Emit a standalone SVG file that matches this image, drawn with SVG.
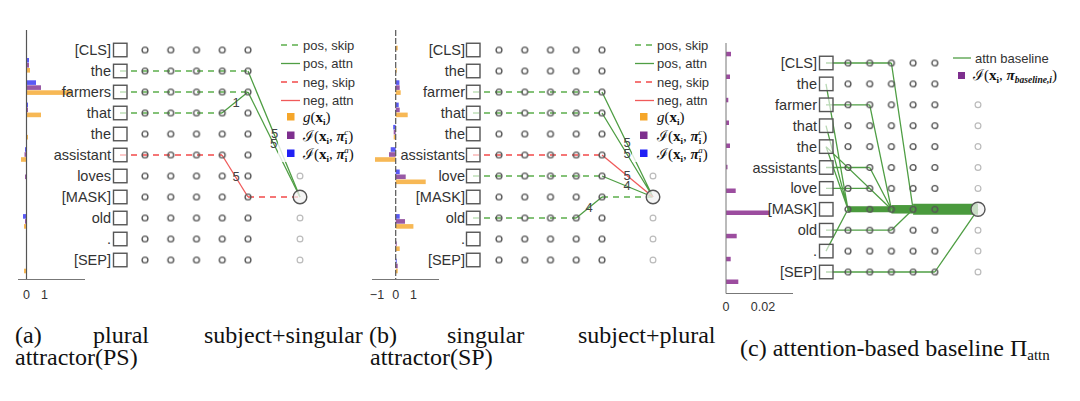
<svg xmlns="http://www.w3.org/2000/svg" xmlns:xlink="http://www.w3.org/1999/xlink" width="1080" height="401" viewBox="0 0 1080 401">
<style>
.lbl{font-family:"Liberation Sans",Arial,sans-serif;font-size:14.5px;fill:#333;text-anchor:end}
.box{fill:#fff;fill-opacity:.6;stroke:#555;stroke-width:1.4}
.c{fill:none;stroke:#555;stroke-width:1.4}
.cf{fill:none;stroke:#bbb;stroke-width:1.2}
.big{fill:#f2f2f2;fill-opacity:.75;stroke:#555;stroke-width:1.4}
.ps{fill:none;stroke:#5cae4c;stroke-width:1.4;stroke-dasharray:6 5}
.pa{fill:none;stroke:#4f9e44;stroke-width:1.3}
.ns{fill:none;stroke:#f24a4a;stroke-width:1.3;stroke-dasharray:6 5}
.na{fill:none;stroke:#f05a5a;stroke-width:1.3}
.bl{fill:#3d3df2;fill-opacity:.85}
.pu{fill:#7e2f8e;fill-opacity:.8}
.or{fill:#f5a62a;fill-opacity:.8}
.pc{fill:#9c4d9f}
.num{font-family:"Liberation Sans",Arial,sans-serif;font-size:13px;fill:#444;text-anchor:middle}
.tick{font-family:"Liberation Sans",Arial,sans-serif;font-size:12.5px;fill:#333;text-anchor:middle}
.leg{font-family:"Liberation Sans",Arial,sans-serif;font-size:13px;fill:#333}
.m{font-family:"Liberation Serif","DejaVu Serif",serif;font-size:15px;fill:#111}
.cap{font-family:"Liberation Serif","Times New Roman",serif;font-size:24px;fill:#111}
.ax{stroke:#555;stroke-width:1.2;fill:none}
.hx{stroke:#777;stroke-width:1;fill:none}
</style>
<defs>
<pattern id="gridA" patternUnits="userSpaceOnUse" x="132.125" y="39.5" width="25.75" height="21"><circle cx="12.875" cy="10.5" r="2.9" class="c"/></pattern>
<pattern id="gridB" patternUnits="userSpaceOnUse" x="486.125" y="39.5" width="25.75" height="21"><circle cx="12.875" cy="10.5" r="2.9" class="c"/></pattern>
<pattern id="gridC" patternUnits="userSpaceOnUse" x="837.15" y="52.55" width="21.7" height="20.9"><circle cx="10.85" cy="10.45" r="2.9" class="c"/></pattern>
</defs>
<rect width="1080" height="401" fill="#fff"/>

<!-- ================= Panel A ================= -->
<g id="panel-a">
<g id="a-bars">
<rect class="bl" x="26" y="58" width="3" height="4.6"/><rect class="pu" x="26" y="63" width="3" height="4.6"/><rect class="or" x="26" y="68" width="4" height="4.6"/>
<rect class="bl" x="26" y="80.3" width="10" height="4.6"/><rect class="pu" x="26" y="85.3" width="15" height="4.6"/><rect class="or" x="26" y="90.3" width="45" height="4.6"/>
<rect class="bl" x="26" y="102.6" width="2" height="4.6"/><rect class="pu" x="26" y="107.6" width="2" height="4.6"/><rect class="or" x="26" y="112.6" width="15" height="4.6"/>
<rect class="or" x="26" y="134.9" width="2" height="4.6"/>
<rect class="bl" x="25" y="147.2" width="1" height="4.6"/><rect class="pu" x="24.5" y="152.2" width="1.5" height="4.6"/><rect class="or" x="21" y="157.2" width="5" height="4.6"/>
<rect class="pu" x="25" y="174.5" width="1" height="4.6"/>
<rect class="bl" x="23" y="214.1" width="3" height="4.6"/><rect class="pu" x="25" y="219.1" width="1" height="4.6"/><rect class="or" x="24" y="224.1" width="2" height="4.6"/>
<rect class="or" x="26" y="246.4" width="1" height="4.6"/>
<rect class="or" x="24" y="268.7" width="2" height="4.6"/>
</g>
<g id="a-axes">
<path class="ax" d="M26.5,30 V280"/>
<path class="hx" d="M18,279.5 H85"/>
<text class="tick" x="26.5" y="299">0</text>
<text class="tick" x="44.5" y="299">1</text>
</g>
<g id="a-connectors">
<path class="ps" d="M120,71 H248 M120,92 H248 M120,113 H222"/>
<path class="ns" d="M120,155 H222 M248,197 H300"/>
<path class="pa" d="M222,113 L248,92 M248,71 L300,197"/>
<path class="pa" d="M248,92 L300,197" stroke-width="2.6"/>
<path class="na" d="M222,155 L248,197"/>
</g>
<rect x="132.125" y="39.5" width="128.75" height="231" fill="url(#gridA)"/>
<g id="a-out">
<circle class="cf" cx="300" cy="176" r="2.9"/><circle class="cf" cx="300" cy="218" r="2.9"/><circle class="cf" cx="300" cy="239" r="2.9"/><circle class="cf" cx="300" cy="260" r="2.9"/>
<circle class="big" cx="300" cy="197" r="6.8"/>
</g>
<g id="a-tok-cls"><text class="lbl" x="111" y="55">[CLS]</text><rect class="box" x="113.5" y="43.25" width="13.5" height="13.5"/></g>
<g id="a-tok-the1"><text class="lbl" x="111" y="76">the</text><rect class="box" x="113.5" y="64.25" width="13.5" height="13.5"/></g>
<g id="a-tok-farmers"><text class="lbl" x="111" y="97">farmers</text><rect class="box" x="113.5" y="85.25" width="13.5" height="13.5"/></g>
<g id="a-tok-that"><text class="lbl" x="111" y="118">that</text><rect class="box" x="113.5" y="106.25" width="13.5" height="13.5"/></g>
<g id="a-tok-the2"><text class="lbl" x="111" y="139">the</text><rect class="box" x="113.5" y="127.25" width="13.5" height="13.5"/></g>
<g id="a-tok-assistant"><text class="lbl" x="111" y="160">assistant</text><rect class="box" x="113.5" y="148.25" width="13.5" height="13.5"/></g>
<g id="a-tok-loves"><text class="lbl" x="111" y="181">loves</text><rect class="box" x="113.5" y="169.25" width="13.5" height="13.5"/></g>
<g id="a-tok-mask"><text class="lbl" x="111" y="202">[MASK]</text><rect class="box" x="113.5" y="190.25" width="13.5" height="13.5"/></g>
<g id="a-tok-old"><text class="lbl" x="111" y="223">old</text><rect class="box" x="113.5" y="211.25" width="13.5" height="13.5"/></g>
<g id="a-tok-dot"><text class="lbl" x="111" y="244">.</text><rect class="box" x="113.5" y="232.25" width="13.5" height="13.5"/></g>
<g id="a-tok-sep"><text class="lbl" x="111" y="265">[SEP]</text><rect class="box" x="113.5" y="253.25" width="13.5" height="13.5"/></g>
<g id="a-legend">
<rect x="278" y="36" width="88" height="126" fill="#fff" fill-opacity=".8"/>
<path class="ps" d="M281,45 H300" stroke-dasharray="6 3"/><text class="leg" x="303" y="49.5">pos, skip</text>
<path class="pa" d="M281,63.5 H300" stroke-width="1.6"/><text class="leg" x="303" y="68">pos, attn</text>
<path class="ns" d="M281,82 H300" stroke-dasharray="6 3"/><text class="leg" x="303" y="86.5">neg, skip</text>
<path class="na" d="M281,100.5 H300" stroke-width="1.6"/><text class="leg" x="303" y="105">neg, attn</text>
<rect x="287" y="113" width="7.5" height="7.5" fill="#f5a62a"/>
<text class="m" x="303" y="122"><tspan font-style="italic">g</tspan>(<tspan font-weight="bold">x</tspan><tspan font-weight="bold" font-size="9" dy="3">i</tspan><tspan dy="-3">)</tspan></text>
<rect x="287" y="131.5" width="7.5" height="7.5" fill="#7e2f8e"/>
<text class="m" x="303" y="140.5">ℐ(<tspan font-weight="bold">x</tspan><tspan font-weight="bold" font-size="9" dy="3">i</tspan><tspan dy="-3">, </tspan><tspan font-weight="bold" font-style="italic">π</tspan><tspan font-weight="bold" font-size="9" dy="3">i</tspan><tspan font-style="italic" font-size="9" dx="-3" dy="-9">c</tspan><tspan dy="6">)</tspan></text>
<rect x="287" y="149.5" width="7.5" height="7.5" fill="#2020f5"/>
<text class="m" x="303" y="158.5">ℐ(<tspan font-weight="bold">x</tspan><tspan font-weight="bold" font-size="9" dy="3">i</tspan><tspan dy="-3">, </tspan><tspan font-weight="bold" font-style="italic">π</tspan><tspan font-weight="bold" font-size="9" dy="3">i</tspan><tspan font-style="italic" font-size="9" dx="-3" dy="-9">a</tspan><tspan dy="6">)</tspan></text>
</g>
<g id="a-weights">
<text class="num" x="236" y="107">1</text>
<text class="num" x="274.5" y="138">5</text>
<text class="num" x="273.5" y="148">5</text>
<text class="num" x="236" y="181">5</text>
</g>
</g>

<!-- ================= Panel B ================= -->
<g id="panel-b">
<g id="b-bars">
<rect class="or" x="395.7" y="45.7" width="2" height="4.6"/>
<rect class="or" x="395.7" y="68" width="1" height="4.6"/>
<rect class="bl" x="395.7" y="80.3" width="3.7" height="4.6"/><rect class="pu" x="395.7" y="85.3" width="4" height="4.6"/><rect class="or" x="395.7" y="90.3" width="5" height="4.6"/>
<rect class="bl" x="395.7" y="102.6" width="3" height="4.6"/><rect class="pu" x="395.7" y="107.6" width="4" height="4.6"/><rect class="or" x="395.7" y="112.6" width="12" height="4.6"/>
<rect class="bl" x="393.2" y="124.9" width="2.5" height="4.6"/><rect class="pu" x="393.7" y="129.9" width="2" height="4.6"/><rect class="or" x="393.7" y="134.9" width="2" height="4.6"/>
<rect class="bl" x="390.7" y="147.2" width="5" height="4.6"/><rect class="pu" x="389" y="152.2" width="6.7" height="4.6"/><rect class="or" x="375" y="157.2" width="20.7" height="4.6"/>
<rect class="bl" x="395.7" y="169.5" width="4" height="4.6"/><rect class="pu" x="395.7" y="174.5" width="10" height="4.6"/><rect class="or" x="395.7" y="179.5" width="30" height="4.6"/>
<rect class="bl" x="395.7" y="214.1" width="4" height="4.6"/><rect class="pu" x="395.7" y="219.1" width="9.3" height="4.6"/><rect class="or" x="395.7" y="224.1" width="17.7" height="4.6"/>
<rect class="pu" x="395.7" y="241.4" width="1" height="4.6"/><rect class="or" x="395.7" y="246.4" width="4" height="4.6"/>
<rect class="bl" x="395.7" y="258.7" width="1" height="4.6"/><rect class="pu" x="395.7" y="263.7" width="2" height="4.6"/><rect class="or" x="395.7" y="268.7" width="2" height="4.6"/>
</g>
<g id="b-axes">
<path class="ax" d="M395.7,30 V280" stroke-dasharray="6 2"/>
<path class="hx" d="M372,279.5 H439"/>
<text class="tick" x="377" y="299">−1</text>
<text class="tick" x="395.7" y="299">0</text>
<text class="tick" x="413.5" y="299">1</text>
</g>
<g id="b-connectors">
<path class="ps" d="M473,92 H602 M473,113 H602 M473,176 H602 M473,218 H576.25 M602,197 H653"/>
<path class="ns" d="M473,155 H602"/>
<path class="pa" d="M602,92 L653,197 M602,113 L653,197 M602,176 L653,197 M576.25,218 L602,197"/>
<path class="na" d="M602,155 L653,197"/>
</g>
<rect x="486.125" y="39.5" width="128.75" height="231" fill="url(#gridB)"/>
<g id="b-out">
<circle class="cf" cx="653" cy="176" r="2.9"/><circle class="cf" cx="653" cy="218" r="2.9"/><circle class="cf" cx="653" cy="239" r="2.9"/><circle class="cf" cx="653" cy="260" r="2.9"/>
<circle class="big" cx="653" cy="197" r="6.8"/>
</g>
<g id="b-tok-cls"><text class="lbl" x="465" y="55">[CLS]</text><rect class="box" x="466.5" y="43.25" width="13.5" height="13.5"/></g>
<g id="b-tok-the1"><text class="lbl" x="465" y="76">the</text><rect class="box" x="466.5" y="64.25" width="13.5" height="13.5"/></g>
<g id="b-tok-farmer"><text class="lbl" x="465" y="97">farmer</text><rect class="box" x="466.5" y="85.25" width="13.5" height="13.5"/></g>
<g id="b-tok-that"><text class="lbl" x="465" y="118">that</text><rect class="box" x="466.5" y="106.25" width="13.5" height="13.5"/></g>
<g id="b-tok-the2"><text class="lbl" x="465" y="139">the</text><rect class="box" x="466.5" y="127.25" width="13.5" height="13.5"/></g>
<g id="b-tok-assistants"><text class="lbl" x="465" y="160">assistants</text><rect class="box" x="466.5" y="148.25" width="13.5" height="13.5"/></g>
<g id="b-tok-love"><text class="lbl" x="465" y="181">love</text><rect class="box" x="466.5" y="169.25" width="13.5" height="13.5"/></g>
<g id="b-tok-mask"><text class="lbl" x="465" y="202">[MASK]</text><rect class="box" x="466.5" y="190.25" width="13.5" height="13.5"/></g>
<g id="b-tok-old"><text class="lbl" x="465" y="223">old</text><rect class="box" x="466.5" y="211.25" width="13.5" height="13.5"/></g>
<g id="b-tok-dot"><text class="lbl" x="465" y="244">.</text><rect class="box" x="466.5" y="232.25" width="13.5" height="13.5"/></g>
<g id="b-tok-sep"><text class="lbl" x="465" y="265">[SEP]</text><rect class="box" x="466.5" y="253.25" width="13.5" height="13.5"/></g>
<g id="b-legend">
<rect x="632" y="36" width="88" height="126" fill="#fff" fill-opacity=".8"/>
<path class="ps" d="M635,45 H654" stroke-dasharray="6 3"/><text class="leg" x="657" y="49.5">pos, skip</text>
<path class="pa" d="M635,63.5 H654" stroke-width="1.6"/><text class="leg" x="657" y="68">pos, attn</text>
<path class="ns" d="M635,82 H654" stroke-dasharray="6 3"/><text class="leg" x="657" y="86.5">neg, skip</text>
<path class="na" d="M635,100.5 H654" stroke-width="1.6"/><text class="leg" x="657" y="105">neg, attn</text>
<rect x="640" y="113" width="7.5" height="7.5" fill="#f5a62a"/>
<text class="m" x="657" y="122"><tspan font-style="italic">g</tspan>(<tspan font-weight="bold">x</tspan><tspan font-weight="bold" font-size="9" dy="3">i</tspan><tspan dy="-3">)</tspan></text>
<rect x="640" y="131.5" width="7.5" height="7.5" fill="#7e2f8e"/>
<text class="m" x="657" y="140.5">ℐ(<tspan font-weight="bold">x</tspan><tspan font-weight="bold" font-size="9" dy="3">i</tspan><tspan dy="-3">, </tspan><tspan font-weight="bold" font-style="italic">π</tspan><tspan font-weight="bold" font-size="9" dy="3">i</tspan><tspan font-style="italic" font-size="9" dx="-3" dy="-9">c</tspan><tspan dy="6">)</tspan></text>
<rect x="640" y="149.5" width="7.5" height="7.5" fill="#2020f5"/>
<text class="m" x="657" y="158.5">ℐ(<tspan font-weight="bold">x</tspan><tspan font-weight="bold" font-size="9" dy="3">i</tspan><tspan dy="-3">, </tspan><tspan font-weight="bold" font-style="italic">π</tspan><tspan font-weight="bold" font-size="9" dy="3">i</tspan><tspan font-style="italic" font-size="9" dx="-3" dy="-9">a</tspan><tspan dy="6">)</tspan></text>
</g>
<g id="b-weights">
<text class="num" x="627" y="147">5</text>
<text class="num" x="627" y="158">5</text>
<text class="num" x="627" y="180">5</text>
<text class="num" x="627" y="190">4</text>
<text class="num" x="589" y="212">4</text>
</g>
</g>

<!-- ================= Panel C ================= -->
<g id="panel-c">
<g id="c-bars">
<rect class="pc" x="726" y="51.8" width="5" height="4.5"/>
<rect class="pc" x="726" y="74.5" width="4" height="4.5"/>
<rect class="pc" x="726" y="97.8" width="2.3" height="4.5"/>
<rect class="pc" x="726" y="120.5" width="3" height="4.5"/>
<rect class="pc" x="726" y="143.5" width="4" height="4.5"/>
<rect class="pc" x="726" y="164.8" width="1.5" height="4.5"/>
<rect class="pc" x="726" y="188.5" width="9.7" height="4.5"/>
<rect class="pc" x="726" y="210.5" width="44" height="4.5"/>
<rect class="pc" x="726" y="233.8" width="10.7" height="4.5"/>
<rect class="pc" x="726" y="256.8" width="4.7" height="4.5"/>
<rect class="pc" x="726" y="279.5" width="12.3" height="4.5"/>
</g>
<g id="c-axes">
<path class="hx" d="M726,43 V293.5 H793"/>
<text class="tick" x="726" y="311">0</text>
<text class="tick" x="763" y="311">0.02</text>
</g>
<g id="c-connectors">
<path class="pa" d="M826,63 H891.4 M826,104.8 H869.7 M826,167.5 H869.7 M826,188.4 H869.7 M826,230.2 H891.4 M826,272 H934.8"/>
<path class="pa" d="M891.4,63 L913.1,209.3 M869.7,104.8 L891.4,209.3 M869.7,167.5 L891.4,209.3 M869.7,188.4 L891.4,209.3 M891.4,230.2 L913.1,209.3 M934.8,272 L978,209.3 M826,83.9 L848,209.3 M826,125.7 L848,209.3 M826,146.6 L848,209.3 M826,146.6 L891.4,209.3 M826,251.1 L848,209.3"/>
<path d="M848,209.3 H891.4" stroke="#4a9a3d" stroke-width="6"/>
<path d="M891.4,209.3 H913.1" stroke="#4a9a3d" stroke-width="8.5"/>
<path d="M913.1,209.3 H978" stroke="#4a9a3d" stroke-width="11"/>
</g>
<rect x="837.15" y="52.55" width="108.5" height="229.9" fill="url(#gridC)"/>
<g id="c-out">
<circle class="cf" cx="978" cy="104.8" r="2.9"/><circle class="cf" cx="978" cy="125.7" r="2.9"/><circle class="cf" cx="978" cy="146.6" r="2.9"/><circle class="cf" cx="978" cy="167.5" r="2.9"/><circle class="cf" cx="978" cy="188.4" r="2.9"/>
<circle class="cf" cx="978" cy="230.2" r="2.9"/><circle class="cf" cx="978" cy="251.1" r="2.9"/><circle class="cf" cx="978" cy="272" r="2.9"/>
<circle class="big" cx="978" cy="209.3" r="7"/>
</g>
<g id="c-tok-cls"><text class="lbl" x="817" y="68">[CLS]</text><rect class="box" x="819.5" y="56.25" width="13.5" height="13.5"/></g>
<g id="c-tok-the1"><text class="lbl" x="817" y="88.9">the</text><rect class="box" x="819.5" y="77.15" width="13.5" height="13.5"/></g>
<g id="c-tok-farmer"><text class="lbl" x="817" y="109.8">farmer</text><rect class="box" x="819.5" y="98.05" width="13.5" height="13.5"/></g>
<g id="c-tok-that"><text class="lbl" x="817" y="130.7">that</text><rect class="box" x="819.5" y="118.95" width="13.5" height="13.5"/></g>
<g id="c-tok-the2"><text class="lbl" x="817" y="151.6">the</text><rect class="box" x="819.5" y="139.85" width="13.5" height="13.5"/></g>
<g id="c-tok-assistants"><text class="lbl" x="817" y="172.5">assistants</text><rect class="box" x="819.5" y="160.75" width="13.5" height="13.5"/></g>
<g id="c-tok-love"><text class="lbl" x="817" y="193.4">love</text><rect class="box" x="819.5" y="181.65" width="13.5" height="13.5"/></g>
<g id="c-tok-mask"><text class="lbl" x="817" y="214.3">[MASK]</text><rect class="box" x="819.5" y="202.55" width="13.5" height="13.5"/></g>
<g id="c-tok-old"><text class="lbl" x="817" y="235.2">old</text><rect class="box" x="819.5" y="223.45" width="13.5" height="13.5"/></g>
<g id="c-tok-dot"><text class="lbl" x="817" y="256.1">.</text><rect class="box" x="819.5" y="244.35" width="13.5" height="13.5"/></g>
<g id="c-tok-sep"><text class="lbl" x="817" y="277">[SEP]</text><rect class="box" x="819.5" y="265.25" width="13.5" height="13.5"/></g>
<g id="c-legend">
<rect x="950" y="46" width="125" height="38" fill="#fff" fill-opacity=".85"/>
<path class="pa" d="M953,58 H971" stroke-width="1.6"/><text class="leg" x="975" y="62.5">attn baseline</text>
<rect x="958" y="72" width="7" height="7" fill="#7e2f8e"/>
<text class="m" x="973" y="80">ℐ(<tspan font-weight="bold">x</tspan><tspan font-weight="bold" font-size="9" dy="3">i</tspan><tspan dy="-3">, </tspan><tspan font-weight="bold" font-style="italic">π</tspan><tspan font-weight="bold" font-style="italic" font-size="9.5" dy="3">baseline,i</tspan><tspan dy="-3">)</tspan></text>
</g>
</g>

<!-- ================= Captions ================= -->
<g id="captions">
<text class="cap" x="15" y="343">(a)</text>
<text class="cap" x="93" y="343">plural</text>
<text class="cap" x="204" y="343">subject+singular</text>
<text class="cap" x="15" y="365">attractor(PS)</text>
<text class="cap" x="369" y="343">(b)</text>
<text class="cap" x="447" y="343">singular</text>
<text class="cap" x="578" y="343">subject+plural</text>
<text class="cap" x="370" y="365">attractor(SP)</text>
<text class="cap" x="740" y="356">(c) attention-based baseline Π<tspan font-size="15" dy="4">attn</tspan></text>
</g>
</svg>
